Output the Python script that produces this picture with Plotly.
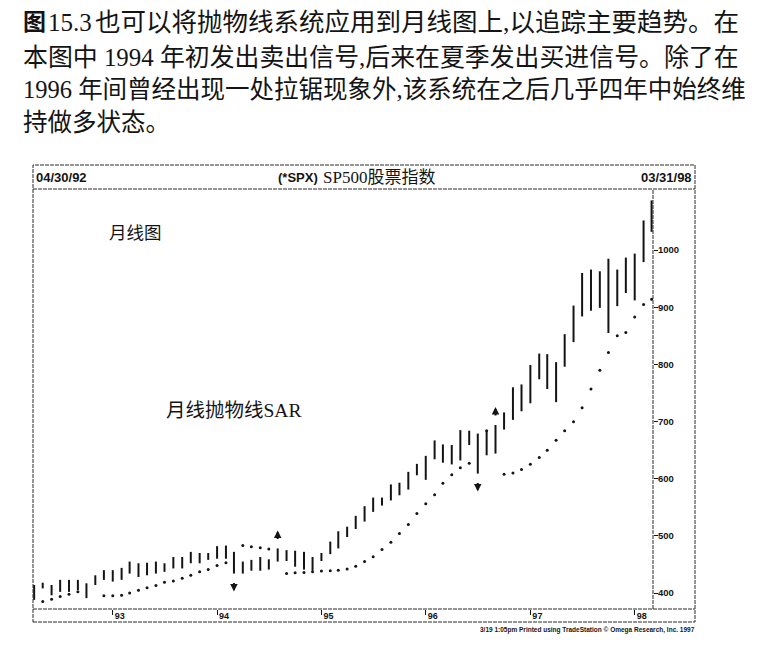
import plotly.graph_objects as go
import pandas as pd

# ---------------- data ----------------
months = pd.date_range("1992-04-01", periods=72, freq="MS")

highs = [414, 418, 414, 423, 423, 423, 417, 431, 440,
         440, 444, 455, 452, 453, 455, 452, 463, 463, 472, 470, 470,
         482, 483, 472, 455, 458, 463, 459, 478, 475, 474, 472, 463,
         470, 490, 508, 516, 535, 552, 567, 567, 590, 593, 612, 626,
         640, 667, 660, 659, 685, 684, 679, 683, 694, 716, 760, 765,
         799, 819, 818, 804, 853, 903, 960, 966, 963, 985, 966, 987,
         994, 1052, 1087]

lows = [388, 408, 396, 402, 402, 405, 391, 414, 423,
        420, 423, 434, 428, 431, 434, 437, 443, 443, 452, 452, 458,
        460, 460, 434, 434, 439, 439, 441, 455, 456, 446, 441, 439,
        456, 468, 478, 498, 512, 525, 542, 553, 562, 571, 581, 606,
        598, 634, 628, 625, 632, 659, 609, 641, 644, 686, 703, 718,
        732, 774, 757, 734, 796, 839, 884, 894, 899, 855, 902, 925,
        912, 979, 1032]

sar = [None, 385, 389, 394, 398, 402, None, None, 395,
       395, 396, 400, 405, 409, 413, 419, 421, 426, 431, 437, 441,
       448, 453, None, 483, 481, 479, 477, None, 434, 435.5, 436, 437,
       438.5, 439, 440, 442, 447, 455, 463.5, 476, 488.6, 504, 520, 539,
       556, 572, 592, 607, 619, 627, None, 684, None, 608, 610, 616,
       625.5, 637, 650, 667.5, 684, 699.5, 724, 757, 790, 821, 850, 856,
       883, 905, 914]

signal_idx = [23, 28, 51, 53]
signal_dir = ["down", "up", "down", "up"]

year_ticks = ["1993-01-01", "1994-01-01", "1995-01-01",
              "1996-01-01", "1997-01-01", "1998-01-01"]
year_labels = ["93", "94", "95", "96", "97", "98"]
price_ticks = [400, 500, 600, 700, 800, 900, 1000]

caption_fig = "图"
caption_num = "15.3"
caption_lines = [
    "也可以将抛物线系统应用到月线图上,以追踪主要趋势。在",
    "本图中 1994 年初发出卖出信号,后来在夏季发出买进信号。除了在",
    "1996 年间曾经出现一处拉锯现象外,该系统在之后几乎四年中始终维",
    "持做多状态。",
]

# ---------------- layout geometry (screen pixels) ----------------
OFF = 8                      # page body margin of the browser
W, H = 768 - 2 * OFF, 651 - 2 * OFF
L, R, T, B = 33, 653, 189, 609          # plot area in screen pixels
BOX_L, BOX_R, BOX_T, BOX_B = 33, 695, 165, 622
INK = "#141414"
SERIF = "Liberation Serif, Noto Sans CJK SC"
SANS = "Liberation Sans, Arial, sans-serif"


def px(xp):
    return (xp - L) / (R - L)


def py(yp):
    return (B - yp) / (B - T)


# price bars as vertical high-low lines
bx, by = [], []
for d, h, l in zip(months, highs, lows):
    bx += [d, d, None]
    by += [l, h, None]

fig = go.Figure()
fig.add_trace(go.Scatter(x=bx, y=by, mode="lines",
                         line=dict(color=INK, width=2),
                         hoverinfo="skip", showlegend=False))
fig.add_trace(go.Scatter(x=months, y=sar, mode="markers",
                         marker=dict(color=INK, size=3),
                         hoverinfo="skip", showlegend=False))

annotations = []
# signal arrows
for i, dr in zip(signal_idx, signal_dir):
    up = dr == "up"
    annotations.append(dict(
        x=months[i], y=highs[i] if up else lows[i], xref="x", yref="y",
        yshift=18 if up else -18, ax=0, ay=10 if up else -10,
        text="", showarrow=True, arrowhead=2, arrowsize=0.75,
        arrowwidth=2, arrowcolor=INK, standoff=0, startstandoff=0))

# caption
cap_y = [22, 57, 90, 123]
cap_size = [25.5, 24.9, 24.5, 24.5]
annotations.append(dict(x=px(21), y=py(cap_y[0]), xref="paper", yref="paper",
                        xanchor="left", yanchor="middle", showarrow=False,
                        text="<b>" + caption_fig + "</b>",
                        font=dict(family=SERIF, size=23, color=INK)))
annotations.append(dict(x=px(46), y=py(cap_y[0]), xref="paper", yref="paper",
                        xanchor="left", yanchor="middle", showarrow=False,
                        text=caption_num,
                        font=dict(family=SERIF, size=25, color=INK)))
annotations.append(dict(x=px(93), y=py(cap_y[0]), xref="paper", yref="paper",
                        xanchor="left", yanchor="middle", showarrow=False,
                        text=caption_lines[0],
                        font=dict(family=SERIF, size=cap_size[0], color=INK)))
for k in range(1, 4):
    annotations.append(dict(x=px(21), y=py(cap_y[k]), xref="paper", yref="paper",
                            xanchor="left", yanchor="middle", showarrow=False,
                            text=caption_lines[k],
                            font=dict(family=SERIF, size=cap_size[k], color=INK)))

# header row
annotations += [
    dict(x=px(34), y=py(177.5), xref="paper", yref="paper", xanchor="left",
         yanchor="middle", showarrow=False, text="<b>04/30/92</b>",
         font=dict(family=SANS, size=13, color=INK)),
    dict(x=px(694), y=py(177.5), xref="paper", yref="paper", xanchor="right",
         yanchor="middle", showarrow=False, text="<b>03/31/98</b>",
         font=dict(family=SANS, size=13, color=INK)),
    dict(x=px(320), y=py(177.5), xref="paper", yref="paper", xanchor="right",
         yanchor="middle", showarrow=False, text="<b>(*SPX)</b>",
         font=dict(family=SANS, size=13, color=INK)),
    dict(x=px(321), y=py(177), xref="paper", yref="paper", xanchor="left",
         yanchor="middle", showarrow=False, text="SP500股票指数",
         font=dict(family=SERIF, size=17, color=INK)),
    # in-plot labels
    dict(x=px(107), y=py(233), xref="paper", yref="paper", xanchor="left",
         yanchor="middle", showarrow=False, text="月线图",
         font=dict(family=SERIF, size=17.5, color=INK)),
    dict(x=px(164), y=py(410), xref="paper", yref="paper", xanchor="left",
         yanchor="middle", showarrow=False, text="月线抛物线SAR",
         font=dict(family=SERIF, size=19.5, color=INK)),
    # footer
    dict(x=px(697), y=py(630), xref="paper", yref="paper", xanchor="right",
         yanchor="middle", showarrow=False,
         text="<b>3/19 1:05pm Printed using TradeStation © Omega Research, Inc. 1997</b>",
         font=dict(family=SANS, size=6.5, color=INK)),
]

line_style = dict(color="#2a2a2a", width=1, dash="4px,1px")
shapes = [
    dict(type="rect", xref="paper", yref="paper", x0=px(BOX_L), x1=px(BOX_R),
         y0=py(BOX_B), y1=py(BOX_T), line=line_style),
    dict(type="line", xref="paper", yref="paper", x0=px(BOX_L), x1=px(BOX_R),
         y0=py(T), y1=py(T), line=line_style),
    dict(type="line", xref="paper", yref="paper", x0=px(BOX_L), x1=px(BOX_R),
         y0=py(B), y1=py(B), line=line_style),
    dict(type="line", xref="paper", yref="paper", x0=px(R), x1=px(R),
         y0=py(B), y1=py(T), line=line_style),
]

fig.update_layout(
    width=W, height=H,
    margin=dict(l=L - OFF, r=W - (R - OFF), t=T - OFF, b=H - (B - OFF), pad=0),
    paper_bgcolor="white", plot_bgcolor="white",
    showlegend=False,
    annotations=annotations, shapes=shapes,
    xaxis=dict(type="date", range=["1992-03-28", "1998-03-06"],
               tickvals=year_ticks, ticktext=year_labels,
               ticks="outside", ticklen=5, tickwidth=1, tickcolor=INK,
               showgrid=False, zeroline=False, showline=False,
               ticklabelshift=7, ticklabelstandoff=-7,
               tickfont=dict(family=SANS, size=9, color=INK, weight="bold")),
    yaxis=dict(range=[372, 1107], side="right",
               tickvals=price_ticks, ticks="outside", ticklen=4,
               tickwidth=1, tickcolor=INK,
               showgrid=False, zeroline=False, showline=False,
               ticklabelstandoff=-2,
               tickfont=dict(family=SANS, size=9.5, color=INK, weight="bold")),
)

fig.write_html("out.html")
